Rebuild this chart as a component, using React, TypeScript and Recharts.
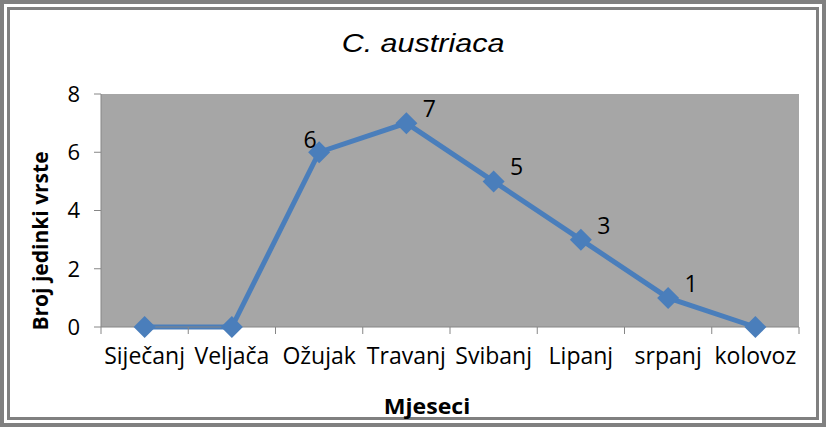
import React from "react";
import {
  LineChart,
  Line,
  XAxis,
  YAxis,
  CartesianGrid,
  LabelList,
} from "recharts";

// values
const months = [
  "Siječanj",
  "Veljača",
  "Ožujak",
  "Travanj",
  "Svibanj",
  "Lipanj",
  "srpanj",
  "kolovoz",
];
const counts = [0, 0, 6, 7, 5, 3, 1, 0];
const yTicks = [0, 2, 4, 6, 8];

const data = months.map((month, i) => ({ month, count: counts[i] }));

const W = 826;
const H = 427;
const MARGIN = { top: 94, right: 27, bottom: 0, left: 0 };
const Y_AXIS_W = 101;
const X_AXIS_H = 100;
const BAND = (W - MARGIN.left - MARGIN.right - Y_AXIS_W) / months.length;

const FONT = "'Open Sans', sans-serif";
const AXIS_GRAY = "#868686";
const LINE_BLUE = "#4a7ebb";

// category labels with the tick marks drawn on the band boundaries
const MonthTick = (props: any) => {
  const { x, y, payload, index } = props;
  const half = payload && payload.offset ? payload.offset : BAND / 2;
  const axisY = y - 7;
  return (
    <g>
      <line x1={x - half} x2={x - half} y1={axisY} y2={axisY + 7} stroke={AXIS_GRAY} />
      {index === months.length - 1 && (
        <line x1={x + half} x2={x + half} y1={axisY} y2={axisY + 7} stroke={AXIS_GRAY} />
      )}
      <text
        x={x}
        y={axisY + 37}
        textAnchor="middle"
        fill="#000"
        fontSize={23}
        fontFamily={FONT}
      >
        {payload.value}
      </text>
    </g>
  );
};

const Diamond = (props: any) => {
  const { cx, cy, index } = props;
  if (cx == null || cy == null) return <g key={index} />;
  const r = 11;
  return (
    <polygon
      key={index}
      points={`${cx},${cy - r} ${cx + r},${cy} ${cx},${cy + r} ${cx - r},${cy}`}
      fill={LINE_BLUE}
    />
  );
};

// zero values carry no label; the point on the steep rise gets its label on the left
const renderLabel = (props: any) => {
  const { x, y, value, index } = props;
  if (!value) return null;
  const left = index > 0 && counts[index - 1] < value && (counts[index + 1] ?? 0) > value;
  return (
    <text
      key={index}
      x={left ? x - 9 : x + 23}
      y={left ? y - 4 : y - 6}
      textAnchor="middle"
      fill="#000"
      fontSize={23}
      fontFamily={FONT}
    >
      {value}
    </text>
  );
};

export default function App() {
  return (
    <div
      style={{
        position: "absolute",
        left: 0,
        top: 0,
        width: W,
        height: H,
        background: "#fff",
        boxSizing: "border-box",
        border: "4px solid #808080",
      }}
    >
      <div
        style={{
          position: "absolute",
          left: 3,
          top: 3,
          right: 3,
          bottom: 3,
          border: "3px solid #808080",
        }}
      />
      <div style={{ position: "absolute", left: -4, top: -4 }}>
        <LineChart width={W} height={H} data={data} margin={MARGIN}>
          <CartesianGrid horizontal={false} vertical={false} fill="#a6a6a6" />
          <XAxis
            dataKey="month"
            scale="band"
            interval={0}
            height={X_AXIS_H}
            tickLine={false}
            tickSize={7}
            tickMargin={0}
            axisLine={{ stroke: AXIS_GRAY }}
            tick={MonthTick}
          />
          <YAxis
            width={Y_AXIS_W}
            domain={[0, 8]}
            ticks={yTicks}
            interval={0}
            tickSize={7}
            tickMargin={14}
            axisLine={{ stroke: AXIS_GRAY }}
            tickLine={{ stroke: AXIS_GRAY }}
            tick={{ fill: "#000", fontSize: 22, fontFamily: FONT }}
          />
          <Line
            type="linear"
            dataKey="count"
            stroke={LINE_BLUE}
            strokeWidth={5}
            dot={Diamond}
            activeDot={false}
            isAnimationActive={false}
          >
            <LabelList dataKey="count" content={renderLabel} />
          </Line>
        </LineChart>
      </div>
      <div
        style={{
          position: "absolute",
          left: 419,
          top: 39,
          transform: "translate(-50%, -50%) scaleX(1.22)",
          fontFamily: "'Liberation Sans', Arial, sans-serif",
          fontStyle: "italic",
          fontSize: 25,
          whiteSpace: "nowrap",
        }}
      >
        C. austriaca
      </div>
      <div
        style={{
          position: "absolute",
          left: 36,
          top: 237,
          transform: "translate(-50%, -50%) rotate(-90deg)",
          fontFamily: FONT,
          fontWeight: 700,
          fontSize: 21,
          whiteSpace: "nowrap",
        }}
      >
        Broj jedinki vrste
      </div>
      <div
        style={{
          position: "absolute",
          left: 423,
          top: 402,
          transform: "translate(-50%, -50%) scaleX(1.1)",
          fontFamily: FONT,
          fontWeight: 700,
          fontSize: 21,
          whiteSpace: "nowrap",
        }}
      >
        Mjeseci
      </div>
    </div>
  );
}
